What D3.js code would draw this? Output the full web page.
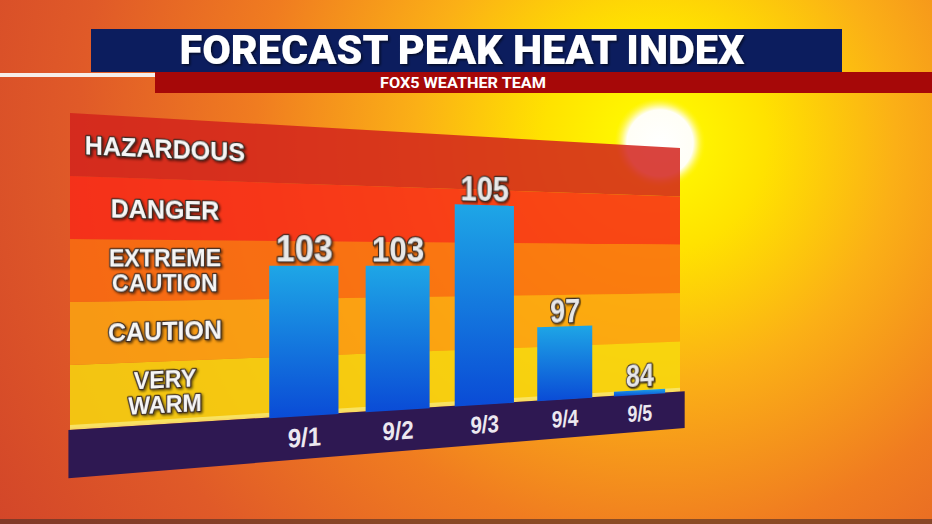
<!DOCTYPE html>
<html>
<head>
<meta charset="utf-8">
<script src="https://cdn.jsdelivr.net/npm/d3@7"></script>
<style>
  html, body { margin: 0; padding: 0; overflow: hidden; background: #d9502a; }
</style>
</head>
<body>
<svg id="chart" width="932" height="524"></svg>
<script>
// ---- data ----
const dates = ["9/1", "9/2", "9/3", "9/4", "9/5"];
const peakHeat = [103, 103, 105, 97, 84];
// heat levels, bottom to top
const levelLines = [["VERY", "WARM"], ["CAUTION"], ["EXTREME", "CAUTION"], ["DANGER"], ["HAZARDOUS"]];
const levelEdges = [83.5, 94.5, 101, 104.5, 105.2, 108];
const levelColors = ["#f7d80e", "#fca510", "#f96c10", "#f82a17", "#d2231c"];
const title = "FORECAST PEAK HEAT INDEX";
const subtitle = "FOX5 WEATHER TEAM";

const svg = d3.select("#chart");
const defs = svg.append("defs");

// background: sun glow in the top right
const bg = defs.append("radialGradient").attr("id", "bg")
  .attr("gradientUnits", "userSpaceOnUse").attr("cx", 655).attr("cy", 140).attr("r", 800);
[[0, "#fffbe0"], [0.05, "#fff500"], [0.14, "#ffe200"], [0.3, "#fbb016"], [0.5, "#f07c20"], [0.72, "#e05a28"], [1, "#d04229"]]
  .forEach(([o, c]) => bg.append("stop").attr("offset", o).attr("stop-color", c));

const sun = defs.append("radialGradient").attr("id", "sun");
[[0, "#ffffff", 1], [0.72, "#fffef6", 1], [0.8, "#fffbb0", 0.8], [1, "#fff200", 0]]
  .forEach(([o, c, a]) => sun.append("stop").attr("offset", o).attr("stop-color", c).attr("stop-opacity", a));

const barGrad = defs.append("linearGradient").attr("id", "bar").attr("x1", 0).attr("y1", 0).attr("x2", 0).attr("y2", 1);
barGrad.append("stop").attr("offset", 0).attr("stop-color", "#1ea6e6");
barGrad.append("stop").attr("offset", 1).attr("stop-color", "#0a4bd6");

const shadow = defs.append("filter").attr("id", "shadow").attr("x", "-20%").attr("y", "-20%").attr("width", "140%").attr("height", "140%");
shadow.append("feDropShadow").attr("dx", 1.5).attr("dy", 1.5).attr("stdDeviation", 1)
  .attr("flood-color", "#000").attr("flood-opacity", 0.6);

svg.append("rect").attr("width", 932).attr("height", 524).attr("fill", "url(#bg)");
svg.append("circle").attr("cx", 660).attr("cy", 143).attr("r", 46).attr("fill", "url(#sun)");
svg.append("rect").attr("y", 519).attr("width", 932).attr("height", 5).attr("fill", "#5e3528").attr("opacity", 0.7);

// ---- perspective board: unit square -> quad ----
function quadMap(p0, p1, p2, p3) {
  const dx1 = p1[0] - p2[0], dx2 = p3[0] - p2[0], dx3 = p0[0] - p1[0] + p2[0] - p3[0];
  const dy1 = p1[1] - p2[1], dy2 = p3[1] - p2[1], dy3 = p0[1] - p1[1] + p2[1] - p3[1];
  const den = dx1 * dy2 - dx2 * dy1;
  const g = (dx3 * dy2 - dx2 * dy3) / den, h = (dx1 * dy3 - dx3 * dy1) / den;
  const a = p1[0] - p0[0] + g * p1[0], b = p3[0] - p0[0] + h * p3[0], c = p0[0];
  const d = p1[1] - p0[1] + g * p1[1], e = p3[1] - p0[1] + h * p3[1], f = p0[1];
  return (u, v) => { const w = g * u + h * v + 1; return [(a * u + b * v + c) / w, (d * u + e * v + f) / w]; };
}
const proj = quadMap([70, 113], [680, 148], [680, 390], [70, 428]);
const eps = 0.001;
const refW = (proj(eps, 0)[0] - proj(0, 0)[0]) / eps;
const refH = proj(0, 1)[1] - proj(0, 0)[1];
const px = n => n / refH; // flat pixels -> v units

function quad(u0, u1, v0, v1) {
  return [proj(u0, v0), proj(u1, v0), proj(u1, v1), proj(u0, v1)].map(p => p.join(",")).join(" ");
}
function place(u, v) {
  const [x, y] = proj(u, v);
  const [x2, y2] = proj(u + eps, v);
  const yb = proj(u, v + eps)[1];
  const sx = (x2 - x) / eps / refW, sy = (yb - y) / eps / refH;
  const ang = Math.atan2(y2 - y, x2 - x) * 180 / Math.PI;
  return `translate(${x},${y}) skewY(${ang}) scale(${sx},${sy})`;
}

const level = d3.scaleLinear().domain(levelEdges).range(d3.range(levelEdges.length));
const yv = d3.scaleLinear().domain([0, levelColors.length]).range([1, 0]);
const xb = d3.scaleBand().domain(dates).range([0.25, 0.99]).paddingInner(0.29).paddingOuter(0.145);

const board = svg.append("g");

// level bands
board.selectAll("polygon.band").data(levelColors).join("polygon")
  .attr("class", "band")
  .attr("points", (c, i) => quad(0, 1, yv(i + 1), yv(i)))
  .attr("fill", c => c).attr("fill-opacity", 0.85);

// base slab
board.append("polygon").attr("points", quad(0, 1, 1 - px(3), 1 + px(2))).attr("fill", "#f8e46a").attr("opacity", 0.9);
board.append("polygon").attr("points", quad(-0.002, 1.01, 1 + px(2), 1 + px(50))).attr("fill", "#2e1852");

const textStyle = sel => sel
  .attr("font-family", "'Liberation Sans', Arial, sans-serif").attr("font-weight", 700)
  .attr("text-anchor", "middle").attr("paint-order", "stroke")
  .attr("stroke-linejoin", "round").attr("filter", "url(#shadow)");

// level labels (one text per level, lines as tspans)
board.selectAll("text.level").data(levelLines).join("text")
  .attr("class", "level").call(textStyle)
  .attr("transform", (d, i) => place(0.124, yv(i + 0.5)))
  .attr("font-size", d => d.length > 1 ? 25 : 27)
  .attr("fill", "#f6f6f6").attr("stroke", "#3a2a22").attr("stroke-width", 2.6)
  .each(function(lines) {
    const t = d3.select(this);
    lines.forEach((s, j) => {
      t.append("tspan").attr("x", 0)
        .attr("y", (j - (lines.length - 1) / 2) * 25.5).attr("dy", "0.36em")
        .text(s);
    });
  });

// bars
const bars = dates.map((d, i) => ({ date: d, value: peakHeat[i] }));
board.selectAll("polygon.bar").data(bars).join("polygon")
  .attr("class", "bar")
  .attr("points", d => quad(xb(d.date), xb(d.date) + xb.bandwidth(), yv(level(d.value)), 1 + px(3)))
  .attr("fill", "url(#bar)");

// value labels
board.selectAll("text.value").data(bars).join("text")
  .attr("class", "value").call(textStyle)
  .attr("transform", d => place(xb(d.date) + xb.bandwidth() / 2, yv(level(d.value)) - px(5)))
  .attr("font-size", 41).attr("fill", "#e8e8e8").attr("stroke", "#3b2a20").attr("stroke-width", 3)
  .text(d => d.value);

// date labels on the base
board.selectAll("text.date").data(bars).join("text")
  .attr("class", "date").call(textStyle)
  .attr("transform", d => place(xb(d.date) + xb.bandwidth() / 2, 1 + px(26)))
  .attr("dy", "0.36em")
  .attr("font-size", 29).attr("fill", "#ece8f0").attr("stroke", "none").attr("filter", null)
  .text(d => d.date);

// ---- title banner ----
svg.append("rect").attr("x", 0).attr("y", 73).attr("width", 156).attr("height", 4).attr("fill", "#f6eeea");
svg.append("rect").attr("x", 91).attr("y", 29).attr("width", 751).attr("height", 43).attr("fill", "#0c1d5e");
svg.append("rect").attr("x", 155).attr("y", 72).attr("width", 777).attr("height", 21).attr("fill", "#a60808");
svg.append("text").attr("x", 462).attr("y", 64)
  .attr("text-anchor", "middle").attr("font-family", "Roboto, 'Liberation Sans', sans-serif")
  .attr("font-weight", 900).attr("font-size", 41).attr("fill", "#ffffff")
  .attr("textLength", 565).attr("lengthAdjust", "spacingAndGlyphs")
  .attr("filter", "url(#shadow)")
  .text(title);
svg.append("text").attr("x", 463).attr("y", 87.5)
  .attr("text-anchor", "middle").attr("font-family", "Roboto, 'Liberation Sans', sans-serif")
  .attr("font-weight", 700).attr("font-size", 14.5).attr("fill", "#ffffff")
  .attr("textLength", 166).attr("lengthAdjust", "spacingAndGlyphs")
  .text(subtitle);
</script>
</body>
</html>
